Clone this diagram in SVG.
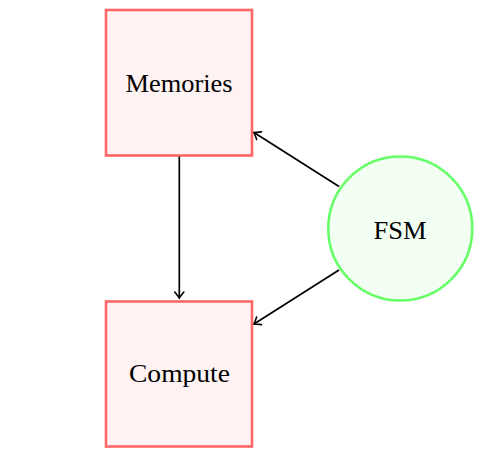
<svg xmlns="http://www.w3.org/2000/svg" width="496" height="462" viewBox="0 0 496 462">
<defs>
<style>
.box{fill:#fff2f2;stroke:#ff6666;stroke-width:2.6}
.circ{fill:#f2fff2;stroke:#66ff66;stroke-width:2.6}
.lbl{font-family:"Liberation Serif","DejaVu Serif",serif;font-size:25px;fill:#000;text-anchor:middle}
.edge{stroke:#000;stroke-width:1.7;fill:none;marker-end:url(#arr)}
</style>
<marker id="arr" viewBox="-8 -6 10 12" markerWidth="10" markerHeight="12" refX="0" refY="0" orient="auto" markerUnits="userSpaceOnUse">
<path d="M -6 -4.5 Q -1.5 -1 0 0 Q -1.5 1 -6 4.5" fill="none" stroke="#000" stroke-width="1.6" stroke-linecap="round"/>
</marker>
</defs>
<g id="memories">
<rect class="box" x="106" y="10" width="146" height="145.5"/>
<text class="lbl" x="179" y="92" textLength="107" lengthAdjust="spacingAndGlyphs">Memories</text>
</g>
<g id="compute">
<rect class="box" x="106" y="301.5" width="146" height="145"/>
<text class="lbl" x="179.5" y="382" textLength="101" lengthAdjust="spacingAndGlyphs">Compute</text>
</g>
<g id="fsm">
<circle class="circ" cx="400.3" cy="228.5" r="72"/>
<text class="lbl" x="400" y="238.5" textLength="53" lengthAdjust="spacingAndGlyphs">FSM</text>
</g>
<g id="connectors">
<line class="edge" x1="179.3" y1="156.5" x2="179.3" y2="298"/>
<line class="edge" x1="339" y1="186.5" x2="254" y2="132.5"/>
<line class="edge" x1="339" y1="270" x2="254" y2="324"/>
</g>
</svg>
